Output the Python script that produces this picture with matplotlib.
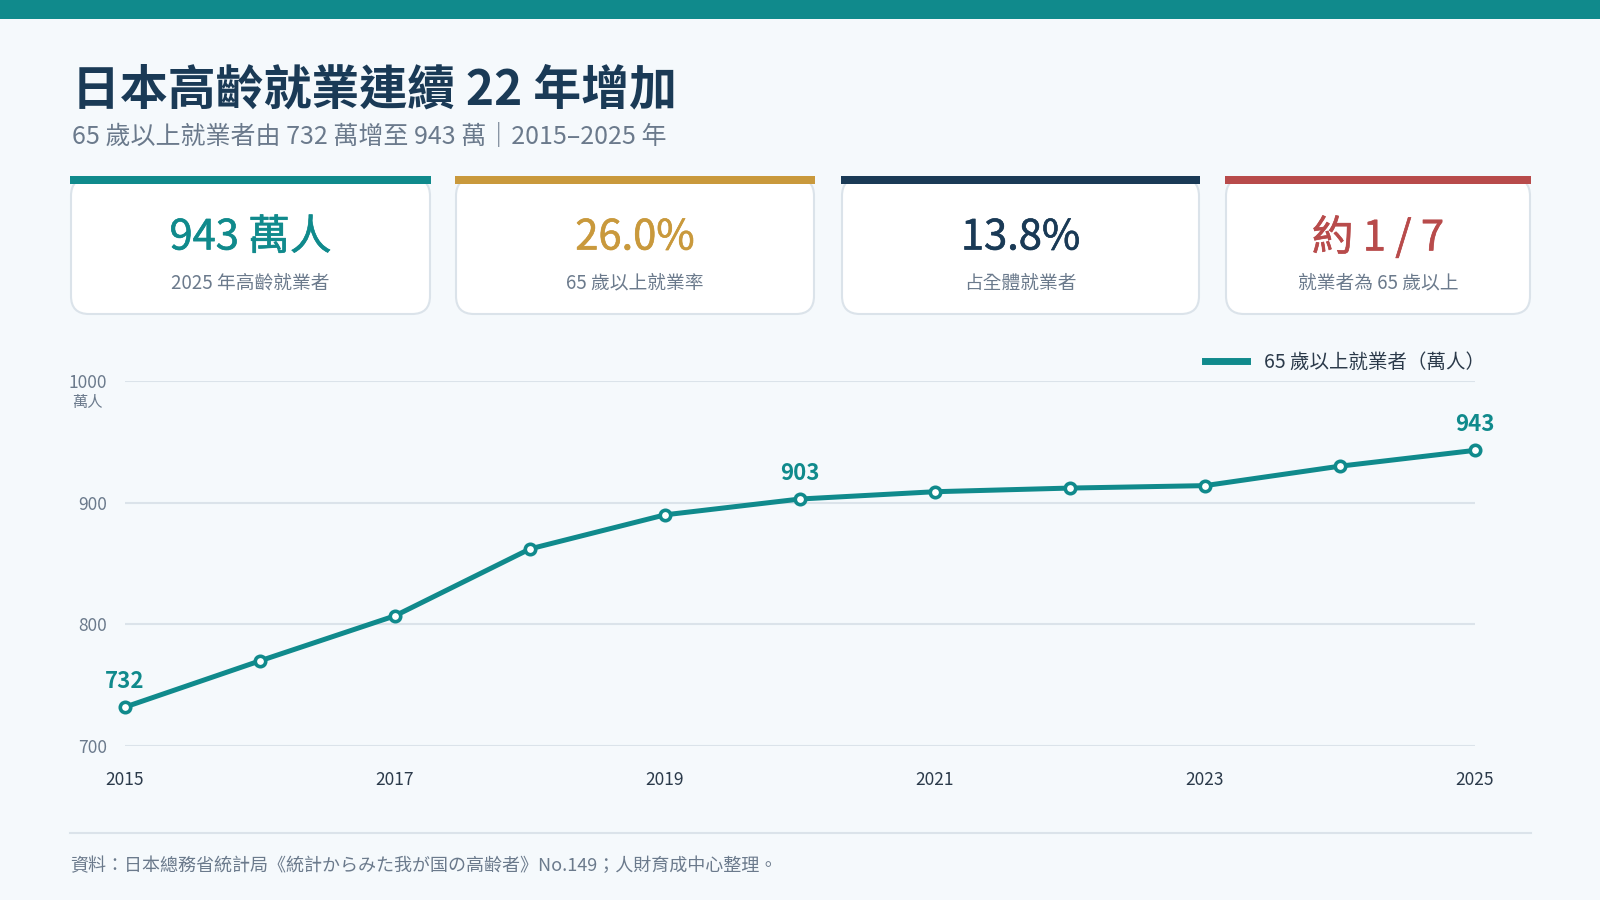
import matplotlib.pyplot as plt
import matplotlib.patheffects as pe
from matplotlib.patches import FancyBboxPatch, Rectangle

plt.rcParams['font.family'] = ['Noto Sans CJK TC', 'DejaVu Sans']

# data
years = [2015, 2016, 2017, 2018, 2019, 2020, 2021, 2022, 2023, 2024, 2025]
workers = [732, 770, 807, 862, 890, 903, 909, 912, 914, 930, 943]
labelled_years = [2015, 2020, 2025]
xticks = [2015, 2017, 2019, 2021, 2023, 2025]
yticks = [700, 800, 900, 1000]

card_values = ['943 萬人', '26.0%', '13.8%', '約 1 / 7']
card_labels = ['2025 年高齡就業者', '65 歲以上就業率', '占全體就業者', '就業者為 65 歲以上']

title = '日本高齡就業連續 22 年增加'
subtitle = '65 歲以上就業者由 732 萬增至 943 萬｜2015–2025 年'
source = '資料：日本總務省統計局《統計からみた我が国の高齢者》No.149；人財育成中心整理。'
series_name = '65 歲以上就業者（萬人）'

# colours
BG = '#f5f9fc'
TEAL = '#108a8c'
GOLD = '#c9993c'
NAVY = '#1a3a56'
RED = '#b84b4b'
GREY = '#6b7a8c'
DARK = '#2b3a4a'
GRID = '#dbe3ea'
card_colors = [TEAL, GOLD, NAVY, RED]

W, H = 1600, 900
fig = plt.figure(figsize=(16, 9), dpi=100, facecolor=BG)

# background / decoration layer in pixel coords
bg = fig.add_axes([0, 0, 1, 1], zorder=0)
bg.set_xlim(0, W)
bg.set_ylim(H, 0)
bg.axis('off')

bg.add_patch(Rectangle((0, 0), W, 18.5, color=TEAL, lw=0))
bg.text(72, 90, title, fontsize=34.5, fontweight='bold', color=NAVY, va='center', ha='left')
bg.text(72, 137, subtitle, fontsize=18, color=GREY, va='center', ha='left')

# KPI cards
card_x = [(70, 431), (455, 815), (841, 1200), (1225, 1531)]
for (x0, x1), val, lab, col in zip(card_x, card_values, card_labels, card_colors):
    box = FancyBboxPatch((x0 + 1, 178), x1 - x0 - 2, 136,
                         boxstyle='round,pad=0,rounding_size=18',
                         facecolor='white', edgecolor=GRID, lw=1.5)
    bg.add_patch(box)
    bg.add_patch(Rectangle((x0, 175.5), x1 - x0, 8.5, color=col, lw=0))
    cx = (x0 + x1) / 2
    t = bg.text(cx, 238, val, fontsize=30, color=col, ha='center', va='center')
    # a thin stroke to get a medium weight
    t.set_path_effects([pe.withStroke(linewidth=0.45, foreground=col)])
    bg.text(cx, 283, lab, fontsize=13.5, color=GREY, ha='center', va='center')

# footer
bg.plot([70, 1531], [833, 833], color=GRID, lw=1.5)
bg.text(70, 866, source, fontsize=13, color=GREY, ha='left', va='center')

# main chart
ax = fig.add_axes([125 / W, 1 - 746 / H, 1350 / W, 365 / H], zorder=2)
ax.set_facecolor('none')
ax.plot(years, workers, color=TEAL, lw=3.6, marker='o', ms=7.5, mfc='white',
        mec=TEAL, mew=2.6, clip_on=False, zorder=3, label=series_name)
for yr, v in zip(years, workers):
    if yr in labelled_years:
        ax.annotate(str(v), (yr, v), xytext=(0, 18.5), textcoords='offset points',
                    ha='center', va='center', fontsize=16, fontweight='bold', color=TEAL)

ax.set_xlim(2015, 2025)
ax.set_ylim(700, 1000)
ax.set_xticks(xticks)
ax.set_yticks(yticks)
ax.tick_params(axis='x', length=0, pad=18, labelsize=12.5, labelcolor=DARK)
ax.tick_params(axis='y', length=0, pad=13, labelsize=12.5, labelcolor=GREY)
ax.grid(axis='y', color=GRID, lw=1.5)
ax.set_axisbelow(True)
for s in ax.spines.values():
    s.set_visible(False)

bg.text(87, 402, '萬人', fontsize=11, color=GREY, ha='center', va='center')

ax.legend(loc='center right', bbox_to_anchor=(1485 / W, 1 - 362 / H),
          bbox_transform=fig.transFigure, frameon=False, fontsize=14,
          handlelength=2.2, handletextpad=0.85, borderaxespad=0, borderpad=0,
          labelcolor=DARK)
leg = ax.get_legend()
for h in leg.legend_handles:
    h.set_marker('')
    h.set_linewidth(5)

fig.savefig('out.png', dpi=100, facecolor=BG)
